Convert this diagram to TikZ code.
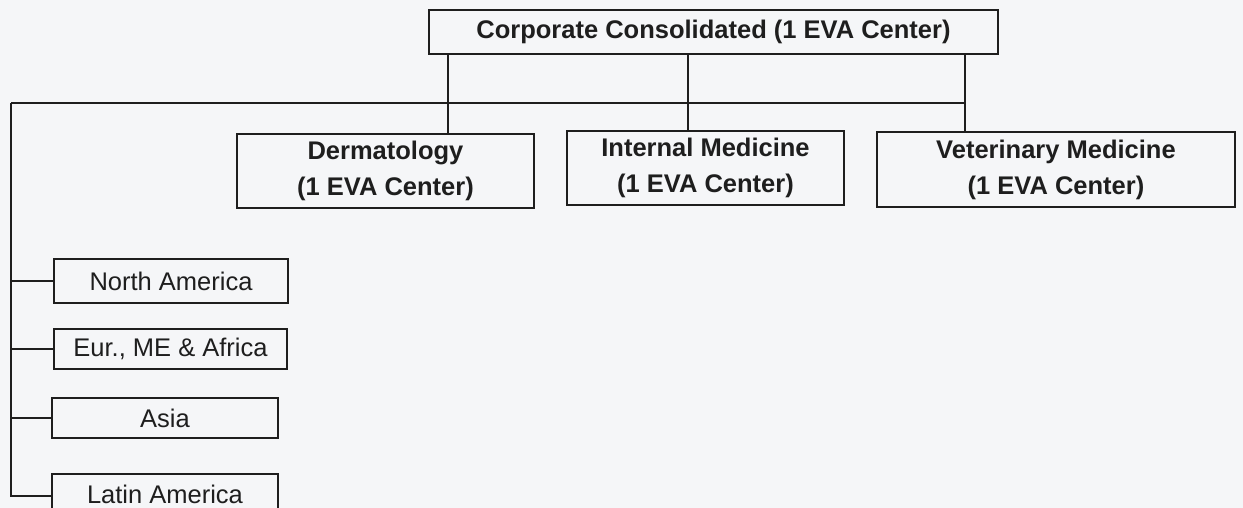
\documentclass[tikz,border=0pt]{standalone}
\usepackage{fontspec}
\setmainfont{Liberation Sans}
\definecolor{paper}{RGB}{245,246,248}
\definecolor{ink}{RGB}{30,30,30}
\begin{document}
\begin{tikzpicture}[x=1pt,y=-1pt,
  box/.style={draw=ink, line width=1.6pt, inner sep=0pt, align=center, text=ink,
    font=\fontsize{25.5}{36}\selectfont},
  bigbox/.style={box, font=\fontsize{25.5}{36}\selectfont\bfseries},
  link/.style={draw=ink, line width=1.6pt}]
\fill[paper] (0,0) rectangle (1243,508);
\useasboundingbox (0,0) rectangle (1243,508);

\node[bigbox, minimum width=569pt, minimum height=44pt] (top) at (713.5,32) {Corporate Consolidated (1 EVA Center)};
\node[bigbox, minimum width=297pt, minimum height=74pt] (derm) at (385.5,171) {Dermatology\\(1 EVA Center)};
\node[bigbox, minimum width=277pt, minimum height=74pt] (im) at (705.5,168) {Internal Medicine\\(1 EVA Center)};
\node[bigbox, minimum width=358pt, minimum height=75pt] (vet) at (1056,169.5) {Veterinary Medicine\\(1 EVA Center)};

\node[box, minimum width=234pt, minimum height=44pt] (na) at (171,281) {North America};
\node[box, minimum width=233pt, minimum height=40pt] (eur) at (170.5,349) {Eur., ME \& Africa};
\node[box, minimum width=226pt, minimum height=40pt] (asia) at (165,418) {Asia};
\node[box, minimum width=226pt, minimum height=44pt] (latin) at (165,496) {\raisebox{4pt}{Latin America}};

\coordinate (spine) at (11,103);
\coordinate (j1) at (448,103);
\coordinate (j2) at (688,103);
\coordinate (j3) at (965,103);

\draw[link] (top.south -| j1) -- (derm.north -| j1);
\draw[link] (top.south -| j2) -- (im.north -| j2);
\draw[link] (top.south -| j3) -- (vet.north -| j3);
\draw[link] (spine) -- (j3);
\draw[link] (spine) |- (latin.west);
\draw[link] (spine |- na.west) -- (na.west);
\draw[link] (spine |- eur.west) -- (eur.west);
\draw[link] (spine |- asia.west) -- (asia.west);
\end{tikzpicture}
\end{document}
